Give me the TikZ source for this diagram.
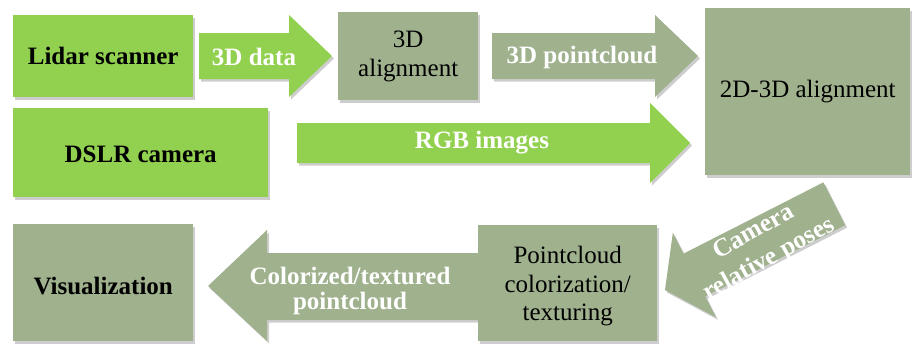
\documentclass[tikz,border=0pt]{standalone}
\usepackage{fontspec}
\setmainfont{Liberation Serif}
\definecolor{lgreen}{HTML}{92D050}
\definecolor{sage}{HTML}{A0B18E}
\tikzset{
  shad/.style={preaction={fill=black!70,opacity=.28,transform canvas={xshift=2pt,yshift=-2.5pt}}},
  gbox/.style={fill=lgreen,shad,inner sep=0pt,anchor=north west},
  sbox/.style={fill=sage,shad,inner sep=0pt,anchor=north west},
  btxt/.style={font=\fontsize{25}{28.5}\selectfont,align=center,text=black},
  bbtxt/.style={font=\fontsize{25}{28.5}\selectfont\bfseries,align=center,text=black},
  atxt/.style={font=\fontsize{25}{25.5}\selectfont\bfseries,align=center,text=white},
  garrow/.style={fill=lgreen,shad},
  sarrow/.style={fill=sage,shad},
}
\begin{document}
\begin{tikzpicture}[x=1pt,y=-1pt]
\useasboundingbox (0,0) rectangle (912,343);
% block arrows
\fill[garrow] (199,33) -- (289,33) -- (289,15) -- (332,56) -- (289,97) -- (289,79) -- (199,79) -- cycle;
\node[atxt] (a3d) at (254,57) {3D data};
\fill[sarrow] (492,33) -- (655,33) -- (655,15) -- (698,56) -- (655,97) -- (655,79) -- (492,79) -- cycle;
\node[atxt] (apc) at (582,57) {3D pointcloud};
\fill[garrow] (297,123) -- (650,123) -- (650,103) -- (690,143) -- (650,183) -- (650,163) -- (297,163) -- cycle;
\node[atxt] (argb) at (482,143) {RGB images};
\fill[sarrow] (208,286) -- (267,230) -- (267,253) -- (480,253) -- (480,320) -- (267,320) -- (267,341) -- cycle;
\node[atxt] (acol) at (350,291) {Colorized/textured\\pointcloud};
\begin{scope}[shift={(665,290)},rotate=27]
  \fill[sarrow] (0,0) -- (33,-47.5) -- (33,-24) -- (190,-24) -- (190,24) -- (33,24) -- (33,47.5) -- cycle;
  \node[atxt,rotate=29,font=\fontsize{25.5}{31}\selectfont\bfseries] (acam) at (106,5) {Camera\\relative poses};
\end{scope}
% boxes
\node[gbox,minimum width=180pt,minimum height=82pt] (lidar) at (13,15) {};
\node[bbtxt] at (lidar.center) {Lidar scanner};
\node[gbox,minimum width=255pt,minimum height=89pt] (dslr) at (13,108) {};
\node[bbtxt] at ([yshift=-2pt]dslr.center) {DSLR camera};
\node[sbox,minimum width=140pt,minimum height=88pt] (al3d) at (338,12) {};
\node[btxt] at (al3d.center) {3D\\alignment};
\node[sbox,minimum width=205pt,minimum height=167pt] (al23) at (705,8) {};
\node[btxt] at (al23.center) {2D-3D alignment};
\node[sbox,minimum width=180pt,minimum height=117pt] (vis) at (13,224) {};
\node[bbtxt] at ([yshift=-3pt]vis.center) {Visualization};
\node[sbox,minimum width=179pt,minimum height=116pt] (pcc) at (478,225) {};
\node[btxt] at ([yshift=-3pt]pcc.center) {Pointcloud\\colorization/\\texturing};
\end{tikzpicture}
\end{document}
